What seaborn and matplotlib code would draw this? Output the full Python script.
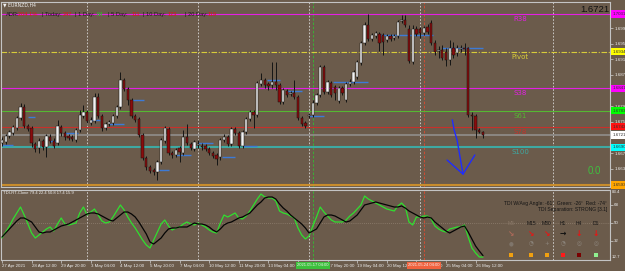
import numpy as np
import pandas as pd
import matplotlib
matplotlib.use("Agg")
import matplotlib.pyplot as plt
import matplotlib.transforms as mtransforms
from matplotlib.patches import Rectangle
import seaborn as sns

# ---------------- data ----------------
symbol_title = "EURNZD,H4"
bars = list(range(131))
open_ = [1.6701,1.6703,1.6719,1.6726,1.6739,1.6765,1.6793,1.6744,1.6739,1.6698,
         1.6688,1.6706,1.6690,1.6716,1.6706,1.6701,1.6742,1.6726,1.6719,1.6716,
         1.6708,1.6734,1.6770,1.6780,1.6752,1.6757,1.6818,1.6770,1.6739,1.6749,
         1.6752,1.6770,1.6793,1.6862,1.6839,1.6811,1.6770,1.6762,1.6721,1.6662,
         1.6639,1.6631,1.6626,1.6652,1.6706,1.6736,1.6675,1.6670,1.6688,1.6675,
         1.6716,1.6698,1.6685,1.6696,1.6693,1.6693,1.6685,1.6675,1.6670,1.6665,
         1.6708,1.6716,1.6698,1.6736,1.6726,1.6693,1.6729,1.6762,1.6780,1.6772,
         1.6852,1.6862,1.6852,1.6849,1.6857,1.6849,1.6806,1.6834,1.6826,1.6829,
         1.6818,1.6765,1.6752,1.6770,1.6772,1.6803,1.6824,1.6895,1.6831,1.6854,
         1.6844,1.6808,1.6841,1.6811,1.6852,1.6857,1.6870,1.6905,1.6957,1.7003,
         1.6967,1.6975,1.6980,1.6977,1.6964,1.6975,1.6969,1.6975,1.7013,1.7016,
         1.6992,1.6908,1.6992,1.6992,1.6982,1.6998,1.7008,1.6957,1.6936,1.6939,
         1.6934,1.6913,1.6944,1.6931,1.6941,1.6944,1.6944,1.6772,1.6770,1.6734,
         1.6729]
high = [1.6716,1.6724,1.6734,1.6747,1.6770,1.6803,1.6800,1.6749,1.6744,1.6703,
        1.6713,1.6711,1.6724,1.6724,1.6713,1.6760,1.6747,1.6731,1.6724,1.6721,
        1.6739,1.6785,1.6798,1.6785,1.6767,1.6829,1.6829,1.6775,1.6754,1.6760,
        1.6775,1.6798,1.6882,1.6867,1.6844,1.6816,1.6775,1.6767,1.6726,1.6667,
        1.6644,1.6637,1.6657,1.6713,1.6744,1.6742,1.6680,1.6688,1.6693,1.6734,
        1.6749,1.6703,1.6708,1.6708,1.6701,1.6698,1.6690,1.6680,1.6675,1.6713,
        1.6724,1.6721,1.6742,1.6742,1.6731,1.6734,1.6767,1.6785,1.6785,1.6859,
        1.6880,1.6867,1.6857,1.6908,1.6908,1.6854,1.6841,1.6839,1.6834,1.6862,
        1.6824,1.6770,1.6757,1.6777,1.6811,1.6829,1.6900,1.6900,1.6862,1.6859,
        1.6849,1.6847,1.6847,1.6857,1.6864,1.6888,1.6913,1.6962,1.7010,1.7031,
        1.6982,1.6987,1.6985,1.6982,1.6980,1.6980,1.6980,1.7016,1.7028,1.7028,
        1.7003,1.7003,1.7000,1.6998,1.7000,1.7005,1.7016,1.6964,1.6949,1.6952,
        1.6944,1.6964,1.6959,1.6952,1.6952,1.6957,1.6946,1.6780,1.6775,1.6739,
        1.6731]
low = [1.6693,1.6698,1.6713,1.6721,1.6734,1.6760,1.6739,1.6731,1.6690,1.6678,
       1.6675,1.6683,1.6665,1.6701,1.6688,1.6696,1.6719,1.6708,1.6708,1.6706,
       1.6703,1.6729,1.6765,1.6752,1.6747,1.6752,1.6765,1.6731,1.6734,1.6744,
       1.6747,1.6765,1.6788,1.6834,1.6798,1.6765,1.6754,1.6716,1.6657,1.6631,
       1.6624,1.6619,1.6606,1.6647,1.6701,1.6670,1.6662,1.6665,1.6652,1.6670,
       1.6696,1.6683,1.6680,1.6688,1.6683,1.6680,1.6670,1.6662,1.6644,1.6657,
       1.6703,1.6693,1.6693,1.6721,1.6688,1.6688,1.6724,1.6757,1.6739,1.6767,
       1.6847,1.6841,1.6836,1.6841,1.6836,1.6800,1.6800,1.6818,1.6821,1.6813,
       1.6760,1.6744,1.6739,1.6765,1.6767,1.6798,1.6818,1.6826,1.6826,1.6818,
       1.6811,1.6803,1.6824,1.6806,1.6847,1.6852,1.6864,1.6900,1.6952,1.6962,
       1.6962,1.6969,1.6936,1.6926,1.6959,1.6962,1.6964,1.6969,1.7008,1.6998,
       1.6905,1.6903,1.6975,1.6969,1.6977,1.6980,1.6952,1.6926,1.6918,1.6913,
       1.6898,1.6900,1.6918,1.6923,1.6934,1.6926,1.6767,1.6734,1.6713,1.6726,
       1.6713]
close = [1.6708,1.6719,1.6729,1.6742,1.6765,1.6793,1.6744,1.6736,1.6701,1.6685,
         1.6706,1.6690,1.6719,1.6706,1.6693,1.6744,1.6726,1.6716,1.6713,1.6711,
         1.6734,1.6772,1.6780,1.6757,1.6760,1.6818,1.6770,1.6739,1.6749,1.6754,
         1.6770,1.6793,1.6862,1.6839,1.6811,1.6770,1.6760,1.6721,1.6662,1.6639,
         1.6629,1.6626,1.6652,1.6708,1.6739,1.6675,1.6670,1.6683,1.6678,1.6716,
         1.6701,1.6688,1.6703,1.6698,1.6690,1.6685,1.6675,1.6667,1.6660,1.6708,
         1.6716,1.6698,1.6736,1.6726,1.6693,1.6729,1.6762,1.6780,1.6772,1.6854,
         1.6862,1.6849,1.6847,1.6857,1.6849,1.6806,1.6836,1.6824,1.6829,1.6818,
         1.6765,1.6749,1.6744,1.6772,1.6803,1.6824,1.6895,1.6831,1.6857,1.6824,
         1.6829,1.6841,1.6829,1.6852,1.6857,1.6882,1.6908,1.6957,1.7003,1.6967,
         1.6977,1.6982,1.6957,1.6959,1.6975,1.6967,1.6975,1.7010,1.7016,1.7003,
         1.6911,1.6992,1.6980,1.6982,1.6995,1.6985,1.6957,1.6934,1.6939,1.6918,
         1.6913,1.6944,1.6926,1.6944,1.6944,1.6941,1.6772,1.6770,1.6734,1.6729,
         1.6721]

tdi_green = [35,41,47,54,60,66,58,49,40,35,
             38,41,44,46,42,49,55,49,48,49,
             50,60,66,58,61,64,58,52,50,51,
             56,62,68,63,56,50,45,39,33,28,
             25,33,41,49,53,47,43,45,46,49,
             51,49,48,50,48,46,43,41,40,50,
             58,56,58,60,55,54,57,62,68,74,
             79,76,75,75,72,62,60,59,57,55,
             45,38,34,37,47,56,66,61,57,53,
             51,51,51,53,57,60,64,68,77,74,
             72,70,68,66,64,63,62,67,70,66,
             51,48,56,56,57,57,54,47,44,42,
             41,44,45,46,46,48,36,25,20,16,
             15.9]
tdi_black = [36,40,44,48,52,55,55,53,51,46,
             41,40,41,41,43,45,47,48,49,51,
             53,55,57,59,60,60,59,57,55,53,
             52,55,58,61,61,59,56,51,45,39,
             31,29,32,35,40,44,45,45,46,46,
             46,48,50,49,49,48,46,43,41,44,
             48,50,51,53,55,56,58,60,64,68,
             71,75,76,76,74,69,65,62,58,55,
             52,49,45,40,42,44,50,56,58,58,
             57,55,53,51,52,55,58,63,68,69,
             70,71,70,69,68,67,66,66,67,65,
             62,60,58,56,55,56,55,51,48,45,
             42,40,42,44,46,47,41,34,27,22,
             17.4]
tdi_title = "TDI-RT-Clone 79.4 22.4 50.8 17.4 15.9"
tdi_mid_level = 50
tdi_ticks = [68, 50, 32]
tdi_top, tdi_bottom = 83.4, 12.7

level_names = ["R38", "Pivot", "S38", "S61", "S78", "S100", "S161"]
level_prices = [1.7031, 1.6934, 1.6841, 1.6783, 1.6742, 1.6690, 1.6593]
level_colors = ["#e41fe4", "#d8cc3a", "#e41fe4", "#56b832", "#c9302a", "#3ea9a2", "#c88c2c"]
level_box_colors = ["#ff00ff", "#ffff00", "#ff00ff", "#00ff00", "#ff1010", "#00ffff", "#ffa500"]
bid_price = 1.6721

price_ticks = [1.6995, 1.6955, 1.6915, 1.6875, 1.6835, 1.6795, 1.6755, 1.6715, 1.6675, 1.6635]

time_tick_bars = [0, 8, 16, 24, 32, 40, 48, 56, 64, 72, 80, 88, 96, 104, 112, 120, 128]
time_tick_labels = ["27 Apr 2021", "28 Apr 12:00", "29 Apr 20:00", "3 May 04:00", "4 May 12:00",
                    "5 May 20:00", "7 May 04:00", "10 May 12:00", "11 May 20:00", "13 May 04:00",
                    "14 May 12:00", "17 May 20:00", "19 May 04:00", "20 May 12:00", "21 May 20:00",
                    "25 May 04:00", "26 May 12:00"]
week_sep_bars = [23, 53, 83, 113, 149]
marker_bars = [84, 114]
marker_labels = ["2021.05.17 04:00", "2021.05.24 04:00"]

blue_start = [0, 7, 13, 17, 24, 29, 35, 42, 47, 53, 59.5, 65, 71.6, 77, 83, 89.5, 102, 119]
blue_end = [3, 9, 14.5, 20.5, 26.5, 33, 38.5, 45, 51, 57, 63, 69, 75, 81, 87, 99, 116.5, 130]
blue_price = [1.6696, 1.6767, 1.6706, 1.6726, 1.6760, 1.6749, 1.6811, 1.6631, 1.6670, 1.6701,
              1.6665, 1.6693, 1.6862, 1.6834, 1.6770, 1.6857, 1.6977, 1.6944]

stroke_stem_bar = [121.7, 122.2, 123.0, 124.6]
stroke_stem_price = [1.6760, 1.6734, 1.6708, 1.6621]
stroke_head_bar = [120.3, 124.6, 127.8]
stroke_head_price = [1.6657, 1.6621, 1.6670]

adr_parts = ["ADR:", "204 1%", "| Today:", "247", "| 1 Day:", "64", "| 5 Day:", "111",
             "| 10 Day:", "123", "| 20 Day:", "119"]
adr_colors = ["#1a1a1a", "#e01515", "#1a1a1a", "#e01515", "#1a1a1a", "#22cc22", "#1a1a1a",
              "#e01515", "#1a1a1a", "#e01515", "#1a1a1a", "#e01515"]

tf_labels = ["M5", "M15", "M30", "H1", "H4", "D1"]
tf_arrows = ["\u2198", "\u2198", "\u2198", "\u2192", "\u2193", "\u2193"]
tf_arrow_colors = ["#b06a5a", "#ee1111", "#ee1111", "#101010", "#ee1111", "#ee1111"]
tf_symbols = ["\u25cf", "\u25d4", "+", "\u25d4", "\u25ce", "\u25ce"]
tf_square_colors = ["#f0a010", "#f0a010", "#f0a010", "#ff1a1a", "#7a0000", "#90f090"]
tdi_angle_text = "TDI W/Avg Angle: -61\u00b0  Green: -26\u00b0  Red: -74\u00b0"
tdi_sep_text = "TDI Separation: STRONG [3.1]"
zero_text = "0.0"

# ---------------- style ----------------
sns.set_style("dark")
plt.rcParams['font.family'] = ['Liberation Sans', 'DejaVu Sans']

BG = '#6b5b4b'
W, H = 625, 271
fig = plt.figure(figsize=(6.25, 2.71), dpi=100, facecolor=BG)

def fx(px):
    return px / W

def fy(py):
    return 1 - py / H

ax = fig.add_axes([fx(1), fy(187), fx(610) - fx(1), fy(2) - fy(187)])
axi = fig.add_axes([fx(1), fy(260.3), fx(610) - fx(1), fy(189.6) - fy(260.3)])

XL = ((1 - 2) / 3.7, (610 - 2) / 3.7)
for a in (ax, axi):
    a.set_facecolor(BG)
    a.grid(False)
    a.set_xlim(*XL)
    for s in a.spines.values():
        s.set_color('#c4c4c4')
        s.set_linewidth(0.8)
        s.set_visible(True)

ax.set_ylim(1.65880, 1.70616)
axi.set_ylim(tdi_bottom, tdi_top)

# ---------------- main panel ----------------
df = pd.DataFrame({'bar': bars, 'open': open_, 'high': high, 'low': low, 'close': close})
up = (df['close'] >= df['open']).values

for b in week_sep_bars:
    for a in (ax, axi):
        a.axvline(b, color='#d8d8d8', lw=0.6, ls=(0, (2, 2)), zorder=1)
ax.axvline(marker_bars[0], color='#33bb33', lw=0.6, ls=(0, (3, 2)), zorder=1)
ax.axvline(marker_bars[1], color='#e04a30', lw=0.6, ls=(0, (3, 2)), zorder=1)
axi.axvline(marker_bars[0], color='#33bb33', lw=0.6, ls=(0, (3, 2)), zorder=1)
axi.axvline(marker_bars[1], color='#e04a30', lw=0.6, ls=(0, (3, 2)), zorder=1)

# level lines
for name, p, c in zip(level_names, level_prices, level_colors):
    if name == "Pivot":
        ax.axhline(p, color=c, lw=0.8, ls=(0, (5, 1.5, 1, 1.5)), zorder=2)
    elif name in ("S100", "S161"):
        ax.axhline(p, color=c, lw=1.5, zorder=2)
    else:
        ax.axhline(p, color=c, lw=0.8, zorder=2)
ax.axhline(bid_price, color='#8e8a86', lw=1.3, zorder=2)

# blue segments
ax.hlines(blue_price, blue_start, blue_end, color='#3d7ad6', lw=1.0, zorder=3)

# candles
ax.vlines(df['bar'], df['low'], df['high'], color='#151515', lw=0.7, zorder=4)
body_lo = np.minimum(df['open'], df['close'])
body_h = np.maximum(np.abs(df['close'] - df['open']), 0.00009)
ax.bar(df['bar'], body_h, bottom=body_lo, width=0.62,
       color=np.where(up, '#f2f2f2', '#8a0c0c'), edgecolor='#111111',
       linewidth=0.35, zorder=5)

# hand drawn arrow
ax.plot(stroke_stem_bar, stroke_stem_price, color='#1f2cff', lw=1.0, zorder=6)
ax.plot(stroke_head_bar, stroke_head_price, color='#1f2cff', lw=1.0, zorder=6)

# level labels
lab_tr = mtransforms.offset_copy(ax.transData, fig=fig, y=-2, units='dots')
for name, p, c in zip(level_names, level_prices, level_colors):
    ax.text(140, p, name, transform=lab_tr, fontsize=5, color=c, ha='center', va='top',
            family='DejaVu Sans', zorder=7, clip_on=True)

# right price scale
ax.yaxis.tick_right()
ax.set_yticks(price_ticks)
ax.set_yticklabels([f"{p:.4f}" for p in price_ticks])
ax.tick_params(axis='y', right=True, left=False, length=2, width=0.5, color='#d0d0d0',
               labelsize=3.2, labelcolor='#ececec', pad=1)
ax.tick_params(axis='x', bottom=False, labelbottom=False)

box_tr = mtransforms.blended_transform_factory(ax.transAxes, ax.transData)
box_prices = level_prices[:5] + [bid_price] + level_prices[5:]
box_colors = level_box_colors[:5] + ['#ffffff'] + level_box_colors[5:]
for p, c in zip(box_prices, box_colors):
    ax.text(1.004, p, f"{p:.4f}", transform=box_tr, fontsize=3.2, color='#303030',
            ha='left', va='center', clip_on=False, zorder=10,
            bbox=dict(boxstyle='square,pad=0.35', fc=c, ec='none'))

# ---------------- TDI panel ----------------
tdi = pd.DataFrame({'bar': bars, 'RSI price line': tdi_green, 'Trade signal line': tdi_black})
tdi_long = tdi.melt(id_vars='bar', var_name='line', value_name='value')
sns.lineplot(data=tdi_long, x='bar', y='value', hue='line', estimator=None,
             palette={'RSI price line': '#2fe02f', 'Trade signal line': '#050505'},
             linewidth=0.9, legend=False, ax=axi, zorder=4)
axi.set_xlabel('')
axi.set_ylabel('')
axi.axhline(tdi_mid_level, color='#a09080', lw=0.5, ls=(0, (1, 2)), zorder=1)

axi.yaxis.tick_right()
axi.set_yticks(tdi_ticks)
axi.set_yticklabels([str(t) for t in tdi_ticks])
axi.tick_params(axis='y', right=True, left=False, length=2, width=0.5, color='#d0d0d0',
                labelsize=3.2, labelcolor='#ececec', pad=1)
axi.set_xticks(time_tick_bars)
axi.set_xticklabels(time_tick_labels, ha='left')
axi.tick_params(axis='x', bottom=True, length=2, width=0.5, color='#d0d0d0',
                labelsize=3.2, labelcolor='#ececec', pad=0.8)

fig.text(fx(612), fy(192), f"{tdi_top}", fontsize=3.2, color='#ececec', ha='left', va='center')
fig.text(fx(612), fy(257), f"{tdi_bottom}", fontsize=3.2, color='#ececec', ha='left', va='center')

# time marker labels
for b, lab, c in zip(marker_bars, marker_labels, ['#3cc03c', '#f0623e']):
    px = 2 + 3.7 * b
    fig.text(fx(px), fy(265.5), lab, fontsize=3.0, color='#f4f4f4', ha='center', va='center',
             bbox=dict(boxstyle='square,pad=0.3', fc=c, ec='none'), zorder=10)

# ---------------- texts ----------------
fig.text(fx(3), fy(5), "\u25bc " + symbol_title, fontsize=3.3, color='#f0f0f0',
         ha='left', va='center', family=['DejaVu Sans'])
adr_x = [6, 18, 42, 63, 75, 97, 108, 132, 143, 168, 185, 208]
for t, c, x in zip(adr_parts, adr_colors, adr_x):
    fig.text(fx(x), fy(14.5), t, fontsize=4.1, color=c, ha='left', va='center')

fig.text(fx(609), fy(9), f"{bid_price:.4f}", fontsize=6.8, color='#101010', ha='right', va='center')
fig.text(fx(594), fy(170.5), zero_text, fontsize=7, color='#3fbf3f', ha='center', va='center')

fig.text(fx(3), fy(193.5), tdi_title, fontsize=3.0, color='#f0f0f0', ha='left', va='center')
fig.text(fx(607), fy(204), tdi_angle_text, fontsize=3.6, color='#141414', ha='right', va='center')
fig.text(fx(607), fy(210), tdi_sep_text, fontsize=3.6, color='#141414', ha='right', va='center')

tf_x = [511, 531, 547, 563, 579, 596]
for i, (lab, arr, ac, sym, sc, x) in enumerate(zip(tf_labels, tf_arrows, tf_arrow_colors,
                                                   tf_symbols, tf_square_colors, tf_x)):
    lc = '#8a7868' if i == 0 else '#141414'
    fig.text(fx(x), fy(223.5), lab, fontsize=3.6, color=lc, ha='center', va='center')
    fig.text(fx(x), fy(233.5), arr, fontsize=5.5, color=ac, ha='center', va='center',
             family=['DejaVu Sans'], weight='bold')
    fig.text(fx(x), fy(243.5), sym, fontsize=4, color='#8c857c' if i else '#7f756b',
             ha='center', va='center', family=['DejaVu Sans'])
    fig.add_artist(Rectangle((fx(x - 2), fy(257)), 4 / W, 4 / H, transform=fig.transFigure,
                             facecolor=sc, edgecolor='none'))

fig.savefig("out.png", dpi=100, facecolor=BG)
